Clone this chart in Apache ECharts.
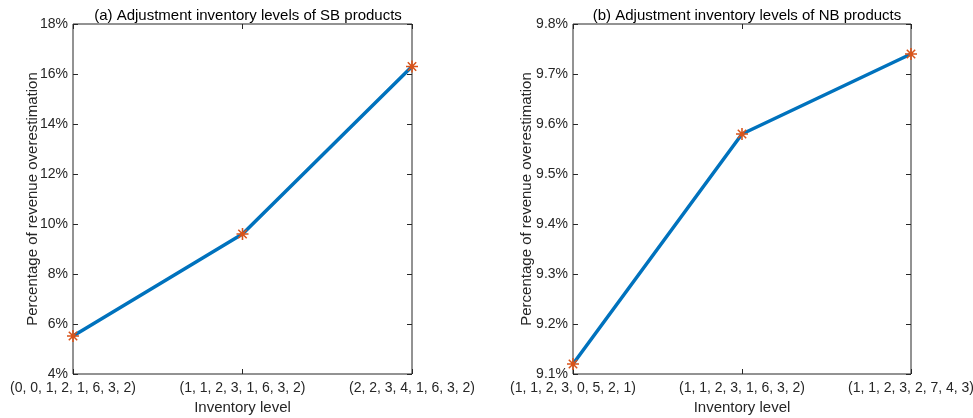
<!DOCTYPE html>
<html><head><meta charset="utf-8">
<script src="https://cdn.jsdelivr.net/npm/echarts@6/dist/echarts.min.js"></script>
<style>html,body{margin:0;padding:0;background:#fff}#c{width:973px;height:418px}</style>
</head><body><div id="c"></div>
<script>
const categoriesA = ['(0, 0, 1, 2, 1, 6, 3, 2)', '(1, 1, 2, 3, 1, 6, 3, 2)', '(2, 2, 3, 4, 1, 6, 3, 2)'];
const valuesA = [5.52, 9.6, 16.3];
const categoriesB = ['(1, 1, 2, 3, 0, 5, 2, 1)', '(1, 1, 2, 3, 1, 6, 3, 2)', '(1, 1, 2, 3, 2, 7, 4, 3)'];
const valuesB = [9.12, 9.58, 9.74];
const titleA = '(a) Adjustment inventory levels of SB products';
const titleB = '(b) Adjustment inventory levels of NB products';
const xName = 'Inventory level';
const yName = 'Percentage of revenue overestimation';

const FONT = '"Liberation Sans", Arial, sans-serif';
const star = 'path://M-10,-1.3L10,-1.3L10,1.3L-10,1.3Z M-1.3,-10L1.3,-10L1.3,10L-1.3,10Z M-6.1,-7.9L7.9,6.1L6.1,7.9L-7.9,-6.1Z M-7.9,6.1L6.1,-7.9L7.9,-6.1L-6.1,7.9Z';
const grids = [
  {left: 73, right: 561, top: 24, bottom: 44, outerBoundsMode: 'none', containLabel: false, show: true, borderColor: '#262626', borderWidth: 1, backgroundColor: 'transparent'},
  {left: 573, right: 62, top: 24, bottom: 44, outerBoundsMode: 'none', containLabel: false, show: true, borderColor: '#262626', borderWidth: 1, backgroundColor: 'transparent'}
];
function xAx(g, cats, pos) {
  const main = pos === 'bottom';
  return {type: 'category', gridIndex: g, data: cats, boundaryGap: false, position: pos,
    axisLine: {show: false}, axisTick: {show: true, inside: true, length: 5, lineStyle: {color: '#262626'}},
    axisLabel: {show: main, color: '#262626', fontFamily: FONT, fontSize: 14, margin: 7, interval: 0},
    name: main ? xName : '', nameLocation: 'middle', nameGap: 26, nameMoveOverlap: false,
    nameTextStyle: {color: '#262626', fontFamily: FONT, fontSize: 15},
    splitLine: {show: false}};
}
function yAx(g, min, max, interval, dec, pos) {
  const main = pos === 'left';
  return {type: 'value', gridIndex: g, min: min, max: max, interval: interval, position: pos,
    axisLine: {show: false}, axisTick: {show: true, inside: true, length: 5, lineStyle: {color: '#262626'}},
    axisLabel: {show: main, color: '#262626', fontFamily: FONT, fontSize: 14, margin: 5,
      formatter: v => v.toFixed(dec) + '%'},
    name: main ? yName : '', nameLocation: 'middle', nameGap: dec ? 39 : 33, nameMoveOverlap: false,
    nameTextStyle: {color: '#262626', fontFamily: FONT, fontSize: 15},
    splitLine: {show: false}};
}
const chart = echarts.init(document.getElementById('c'));
chart.setOption({
  animation: false,
  backgroundColor: '#fff',
  title: [
    {text: titleA, left: 243, top: 3, textAlign: 'center', textStyle: {fontFamily: FONT, fontSize: 15, fontWeight: 'normal', color: '#000'}},
    {text: titleB, left: 742, top: 3, textAlign: 'center', textStyle: {fontFamily: FONT, fontSize: 15, fontWeight: 'normal', color: '#000'}}
  ],
  grid: grids,
  xAxis: [xAx(0, categoriesA, 'bottom'), xAx(0, categoriesA, 'top'), xAx(1, categoriesB, 'bottom'), xAx(1, categoriesB, 'top')],
  yAxis: [yAx(0, 4, 18, 2, 0, 'left'), yAx(0, 4, 18, 2, 0, 'right'), yAx(1, 9.1, 9.8, 0.1, 1, 'left'), yAx(1, 9.1, 9.8, 0.1, 1, 'right')],
  series: [
    {type: 'line', xAxisIndex: 0, yAxisIndex: 0, data: valuesA, symbol: star, symbolSize: 12,
      lineStyle: {color: '#0072BD', width: 3.5}, itemStyle: {color: '#D95319', borderWidth: 0}},
    {type: 'line', xAxisIndex: 2, yAxisIndex: 2, data: valuesB, symbol: star, symbolSize: 12,
      lineStyle: {color: '#0072BD', width: 3.5}, itemStyle: {color: '#D95319', borderWidth: 0}}
  ]
});
</script></body></html>
